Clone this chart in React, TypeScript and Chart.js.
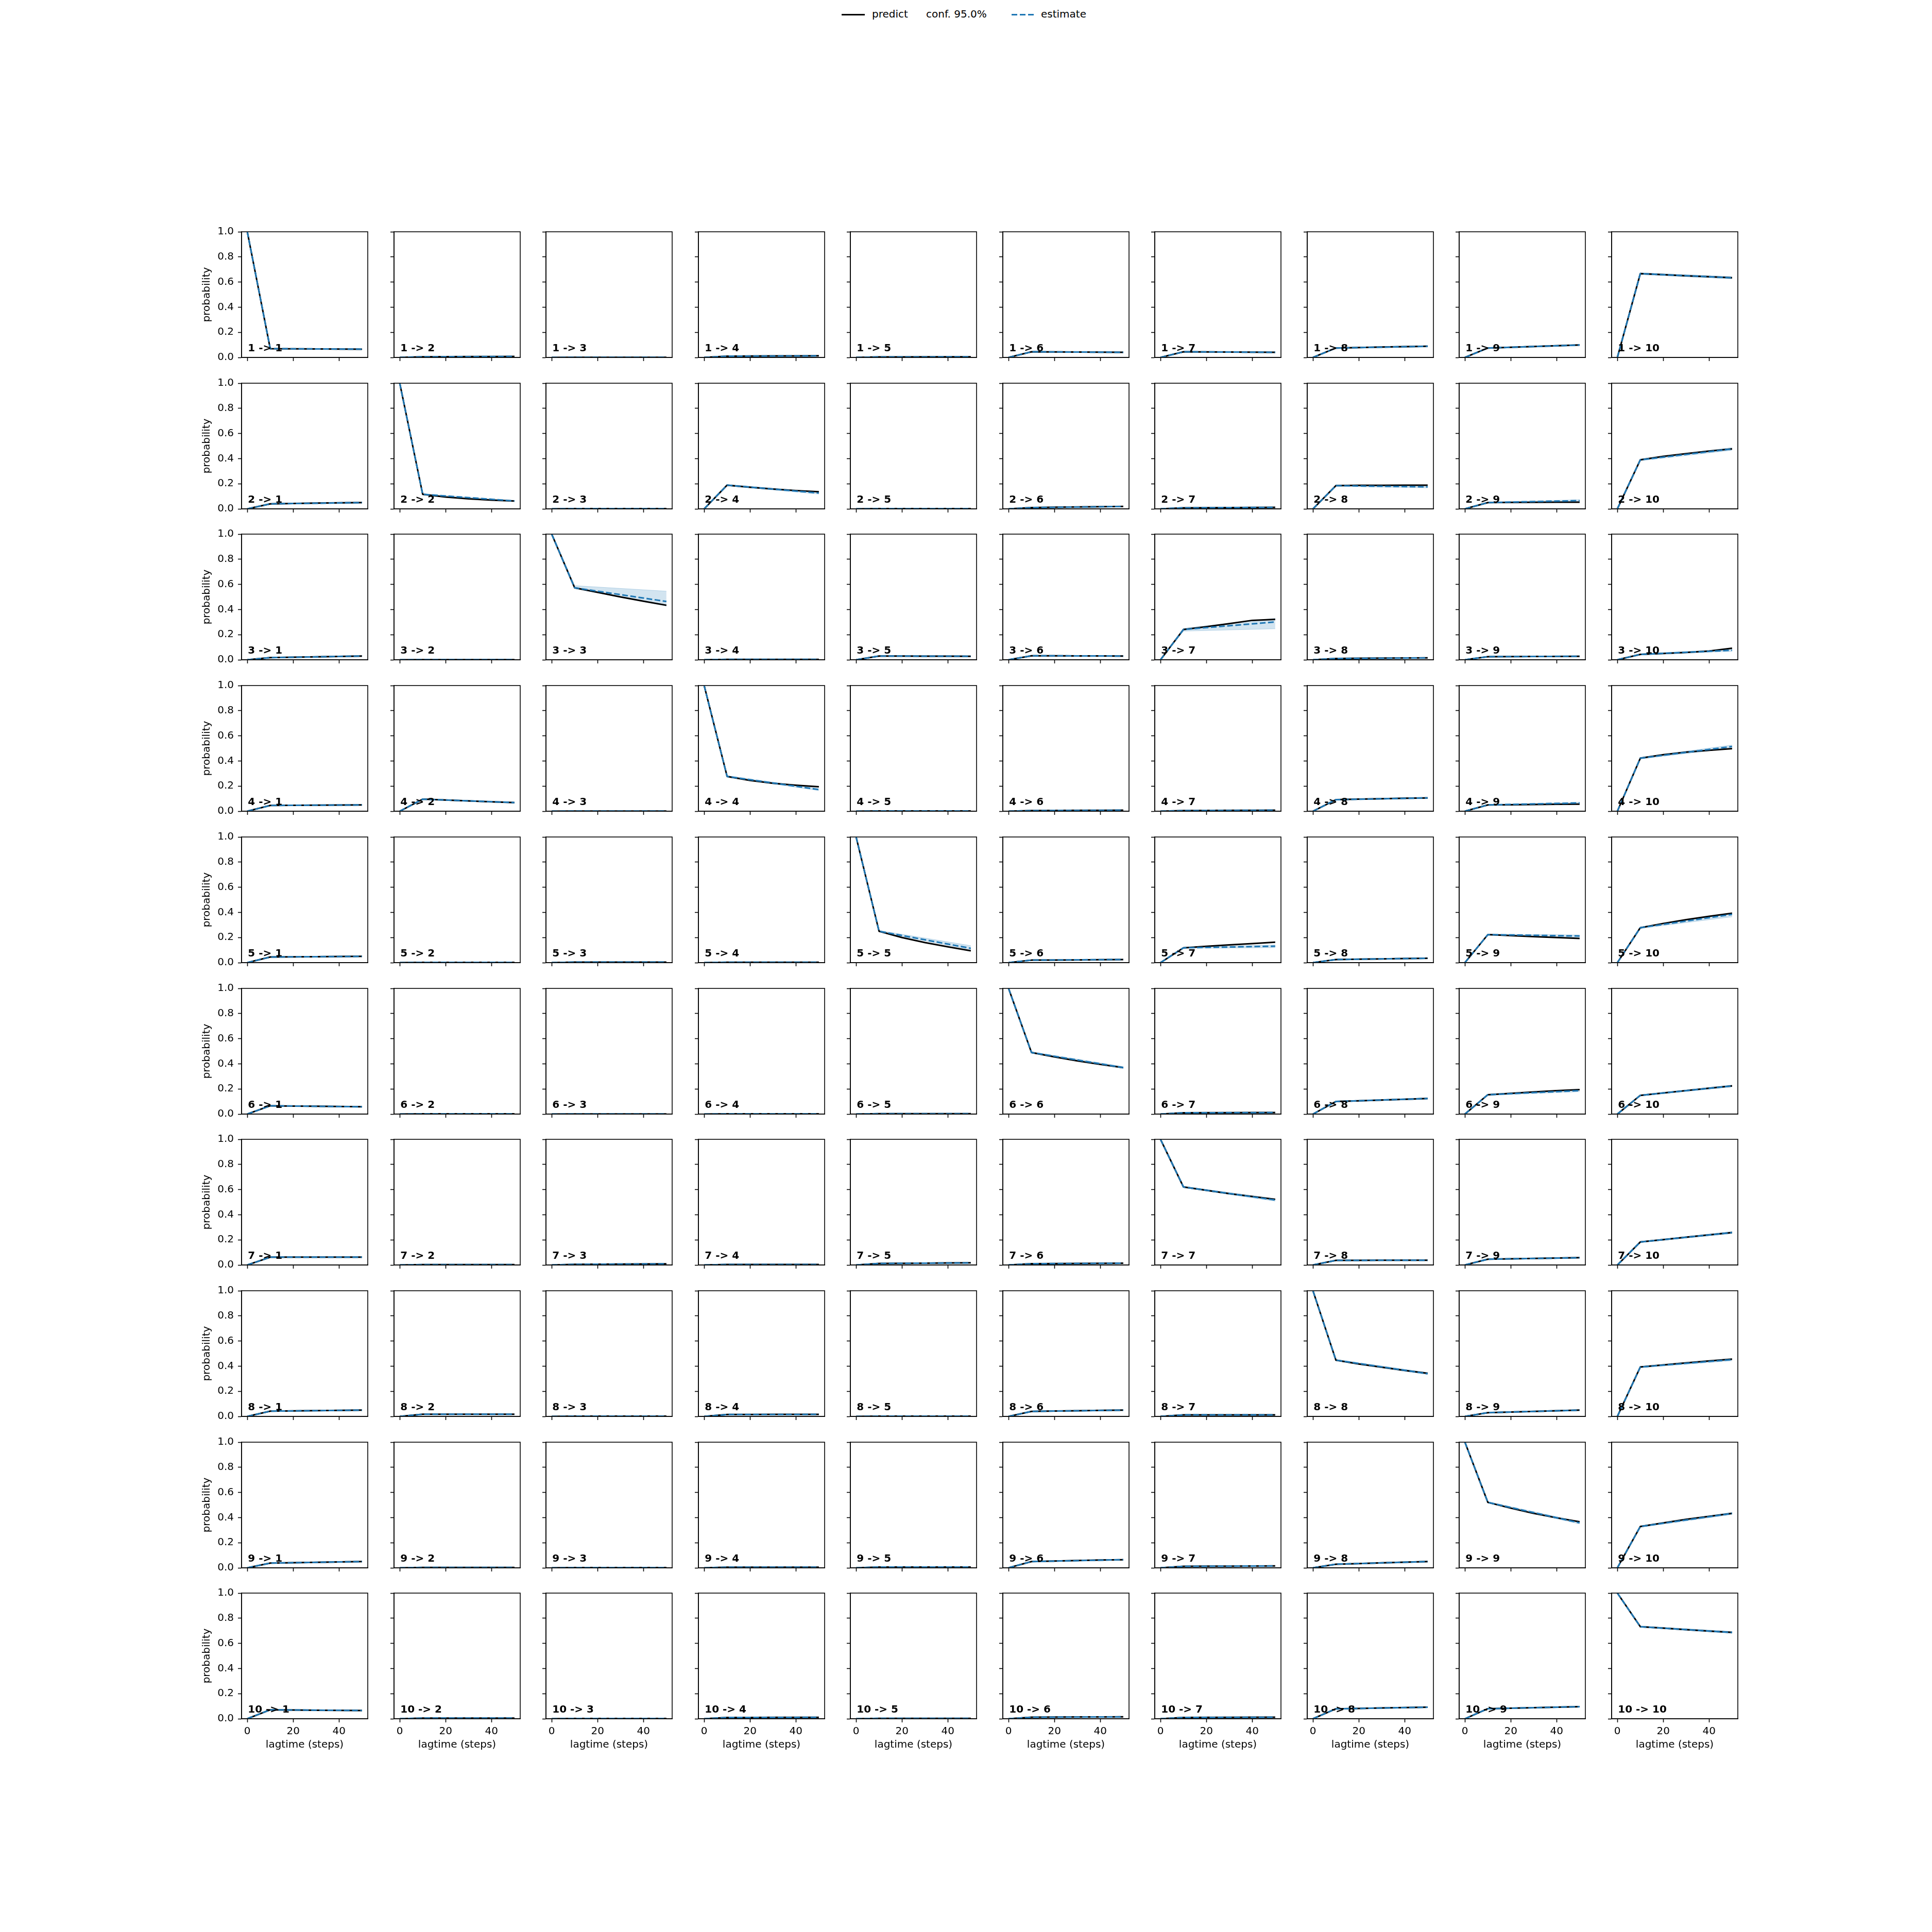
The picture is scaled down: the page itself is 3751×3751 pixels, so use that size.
import { useEffect, useRef } from 'react';
import { Chart, registerables } from 'chart.js';

Chart.register(...registerables);

// ---------------- data ----------------
const lagtimes = [0, 10, 20, 30, 40, 50];
const estimateLagtimes = [0, 10, 50];
const xTickValues = [0, 20, 40];
const yTickValues = [0, 0.2, 0.4, 0.6, 0.8, 1.0];
const stateNames = ['1', '2', '3', '4', '5', '6', '7', '8', '9', '10'];
const legendLabels = ['predict', 'conf. 95.0%', 'estimate'];
const xAxisTitle = 'lagtime (steps)';
const yAxisTitle = 'probability';

// predict: one array per target state, values at lagtimes
const predictFrom1 = [[1, 0.070, 0.069, 0.068, 0.067, 0.066], [0, 0.005, 0.006, 0.007, 0.007, 0.008], [0, 0.001, 0.001, 0.001, 0.001, 0.001], [0, 0.010, 0.011, 0.012, 0.012, 0.013], [0, 0.004, 0.004, 0.005, 0.005, 0.005], [0, 0.045, 0.044, 0.043, 0.042, 0.041], [0, 0.045, 0.044, 0.043, 0.042, 0.041], [0, 0.075, 0.079, 0.083, 0.086, 0.089], [0, 0.075, 0.081, 0.087, 0.093, 0.099], [0, 0.667, 0.659, 0.650, 0.642, 0.634]];
const predictFrom2 = [[0, 0.040, 0.043, 0.046, 0.048, 0.050], [1, 0.116, 0.094, 0.080, 0.070, 0.063], [0, 0.002, 0.002, 0.002, 0.002, 0.002], [0, 0.189, 0.172, 0.158, 0.146, 0.136], [0, 0.002, 0.002, 0.002, 0.002, 0.002], [0, 0.010, 0.013, 0.015, 0.017, 0.019], [0, 0.008, 0.009, 0.010, 0.011, 0.012], [0, 0.185, 0.187, 0.188, 0.189, 0.189], [0, 0.050, 0.051, 0.052, 0.053, 0.053], [0, 0.390, 0.418, 0.440, 0.460, 0.477]];
const predictFrom3 = [[0, 0.017, 0.020, 0.024, 0.027, 0.030], [0, 0.001, 0.001, 0.001, 0.001, 0.001], [1, 0.573, 0.537, 0.500, 0.466, 0.434], [0, 0.003, 0.003, 0.003, 0.003, 0.003], [0, 0.030, 0.030, 0.029, 0.029, 0.028], [0, 0.032, 0.032, 0.031, 0.031, 0.030], [0, 0.241, 0.263, 0.288, 0.314, 0.322], [0, 0.010, 0.012, 0.013, 0.014, 0.015], [0, 0.025, 0.026, 0.027, 0.027, 0.028], [0, 0.043, 0.050, 0.058, 0.070, 0.092]];
const predictFrom4 = [[0, 0.046, 0.047, 0.048, 0.049, 0.050], [0, 0.096, 0.089, 0.082, 0.075, 0.069], [0, 0.001, 0.001, 0.001, 0.001, 0.001], [1, 0.277, 0.245, 0.222, 0.207, 0.195], [0, 0.002, 0.002, 0.002, 0.002, 0.002], [0, 0.005, 0.006, 0.007, 0.007, 0.008], [0, 0.005, 0.006, 0.007, 0.007, 0.008], [0, 0.092, 0.096, 0.099, 0.103, 0.106], [0, 0.050, 0.051, 0.053, 0.055, 0.056], [0, 0.422, 0.450, 0.470, 0.485, 0.498]];
const predictFrom5 = [[0, 0.045, 0.046, 0.047, 0.049, 0.050], [0, 0.002, 0.002, 0.002, 0.002, 0.002], [0, 0.004, 0.004, 0.004, 0.004, 0.004], [0, 0.003, 0.003, 0.003, 0.003, 0.003], [1, 0.250, 0.200, 0.160, 0.126, 0.094], [0, 0.020, 0.021, 0.022, 0.024, 0.025], [0, 0.118, 0.130, 0.141, 0.152, 0.163], [0, 0.025, 0.028, 0.030, 0.033, 0.035], [0, 0.223, 0.215, 0.207, 0.200, 0.193], [0, 0.278, 0.312, 0.342, 0.369, 0.393]];
const predictFrom6 = [[0, 0.066, 0.064, 0.062, 0.060, 0.058], [0, 0.002, 0.002, 0.002, 0.002, 0.002], [0, 0.001, 0.001, 0.001, 0.001, 0.001], [0, 0.002, 0.002, 0.002, 0.002, 0.002], [0, 0.003, 0.003, 0.003, 0.003, 0.003], [1, 0.490, 0.455, 0.423, 0.395, 0.370], [0, 0.010, 0.011, 0.011, 0.012, 0.012], [0, 0.100, 0.106, 0.112, 0.118, 0.124], [0, 0.154, 0.165, 0.176, 0.186, 0.195], [0, 0.149, 0.168, 0.187, 0.206, 0.224]];
const predictFrom7 = [[0, 0.062, 0.062, 0.062, 0.062, 0.062], [0, 0.003, 0.003, 0.003, 0.003, 0.003], [0, 0.005, 0.006, 0.007, 0.008, 0.009], [0, 0.004, 0.004, 0.004, 0.004, 0.004], [0, 0.012, 0.013, 0.014, 0.016, 0.017], [0, 0.010, 0.011, 0.012, 0.013, 0.014], [1, 0.621, 0.594, 0.568, 0.545, 0.523], [0, 0.037, 0.037, 0.038, 0.038, 0.038], [0, 0.046, 0.049, 0.052, 0.055, 0.058], [0, 0.183, 0.202, 0.221, 0.240, 0.258]];
const predictFrom8 = [[0, 0.042, 0.044, 0.046, 0.048, 0.050], [0, 0.017, 0.017, 0.017, 0.017, 0.017], [0, 0.002, 0.002, 0.002, 0.002, 0.002], [0, 0.015, 0.015, 0.016, 0.016, 0.016], [0, 0.002, 0.002, 0.002, 0.002, 0.002], [0, 0.040, 0.043, 0.045, 0.048, 0.050], [0, 0.012, 0.012, 0.012, 0.012, 0.012], [1, 0.448, 0.417, 0.391, 0.366, 0.343], [0, 0.030, 0.035, 0.040, 0.045, 0.050], [0, 0.393, 0.410, 0.426, 0.442, 0.456]];
const predictFrom9 = [[0, 0.038, 0.041, 0.044, 0.047, 0.050], [0, 0.003, 0.003, 0.003, 0.003, 0.003], [0, 0.002, 0.002, 0.002, 0.002, 0.002], [0, 0.005, 0.005, 0.005, 0.005, 0.005], [0, 0.006, 0.006, 0.006, 0.006, 0.006], [0, 0.050, 0.054, 0.058, 0.062, 0.065], [0, 0.012, 0.013, 0.013, 0.014, 0.015], [0, 0.029, 0.034, 0.040, 0.045, 0.050], [1, 0.521, 0.475, 0.433, 0.398, 0.367], [0, 0.329, 0.358, 0.386, 0.410, 0.433]];
const predictFrom10 = [[0, 0.071, 0.070, 0.068, 0.067, 0.066], [0, 0.005, 0.005, 0.005, 0.005, 0.005], [0, 0.002, 0.002, 0.002, 0.002, 0.002], [0, 0.010, 0.010, 0.011, 0.011, 0.011], [0, 0.003, 0.003, 0.003, 0.003, 0.003], [0, 0.012, 0.013, 0.014, 0.014, 0.015], [0, 0.010, 0.011, 0.011, 0.012, 0.012], [0, 0.079, 0.082, 0.086, 0.089, 0.092], [0, 0.080, 0.084, 0.088, 0.092, 0.096], [1, 0.733, 0.721, 0.709, 0.698, 0.687]];

// estimate: values at estimateLagtimes
const estimateFrom1 = [[1, 0.070, 0.066], [0, 0.005, 0.008], [0, 0.001, 0.001], [0, 0.010, 0.013], [0, 0.004, 0.005], [0, 0.045, 0.041], [0, 0.045, 0.041], [0, 0.075, 0.089], [0, 0.075, 0.099], [0, 0.667, 0.634]];
const estimateFrom2 = [[0, 0.040, 0.050], [1, 0.116, 0.063], [0, 0.002, 0.002], [0, 0.189, 0.126], [0, 0.002, 0.002], [0, 0.010, 0.019], [0, 0.008, 0.012], [0, 0.185, 0.175], [0, 0.050, 0.066], [0, 0.390, 0.477]];
const estimateFrom3 = [[0, 0.017, 0.030], [0, 0.001, 0.001], [1, 0.573, 0.464], [0, 0.003, 0.003], [0, 0.030, 0.028], [0, 0.032, 0.030], [0, 0.241, 0.301], [0, 0.010, 0.015], [0, 0.025, 0.028], [0, 0.043, 0.076]];
const estimateFrom4 = [[0, 0.046, 0.050], [0, 0.096, 0.069], [0, 0.001, 0.001], [1, 0.277, 0.172], [0, 0.002, 0.002], [0, 0.005, 0.008], [0, 0.005, 0.008], [0, 0.092, 0.106], [0, 0.050, 0.066], [0, 0.422, 0.515]];
const estimateFrom5 = [[0, 0.045, 0.050], [0, 0.002, 0.002], [0, 0.004, 0.004], [0, 0.003, 0.003], [1, 0.250, 0.114], [0, 0.020, 0.025], [0, 0.118, 0.131], [0, 0.025, 0.035], [0, 0.223, 0.212], [0, 0.278, 0.384]];
const estimateFrom6 = [[0, 0.066, 0.058], [0, 0.002, 0.002], [0, 0.001, 0.001], [0, 0.002, 0.002], [0, 0.003, 0.003], [1, 0.490, 0.370], [0, 0.010, 0.012], [0, 0.100, 0.124], [0, 0.154, 0.187], [0, 0.149, 0.224]];
const estimateFrom7 = [[0, 0.062, 0.062], [0, 0.003, 0.003], [0, 0.005, 0.009], [0, 0.004, 0.004], [0, 0.012, 0.017], [0, 0.010, 0.014], [1, 0.621, 0.517], [0, 0.037, 0.038], [0, 0.046, 0.058], [0, 0.183, 0.258]];
const estimateFrom8 = [[0, 0.042, 0.050], [0, 0.017, 0.017], [0, 0.002, 0.002], [0, 0.015, 0.016], [0, 0.002, 0.002], [0, 0.040, 0.050], [0, 0.012, 0.012], [1, 0.448, 0.340], [0, 0.030, 0.050], [0, 0.393, 0.452]];
const estimateFrom9 = [[0, 0.038, 0.050], [0, 0.003, 0.003], [0, 0.002, 0.002], [0, 0.005, 0.005], [0, 0.006, 0.006], [0, 0.050, 0.065], [0, 0.012, 0.015], [0, 0.029, 0.050], [1, 0.521, 0.358], [0, 0.329, 0.433]];
const estimateFrom10 = [[0, 0.071, 0.066], [0, 0.005, 0.005], [0, 0.002, 0.002], [0, 0.010, 0.011], [0, 0.003, 0.003], [0, 0.012, 0.015], [0, 0.010, 0.012], [0, 0.079, 0.092], [0, 0.080, 0.096], [1, 0.733, 0.687]];

// 95% confidence band (lower / upper) at estimateLagtimes
const confLowFrom1 = [[1, 0.067, 0.062], [0, 0.004, 0.006], [0, 0.000, 0.000], [0, 0.008, 0.010], [0, 0.003, 0.004], [0, 0.042, 0.037], [0, 0.042, 0.037], [0, 0.071, 0.083], [0, 0.071, 0.093], [0, 0.660, 0.625]];
const confHighFrom1 = [[1, 0.073, 0.070], [0, 0.006, 0.010], [0, 0.002, 0.002], [0, 0.012, 0.016], [0, 0.005, 0.007], [0, 0.048, 0.045], [0, 0.048, 0.045], [0, 0.079, 0.095], [0, 0.079, 0.105], [0, 0.674, 0.643]];
const confLowFrom2 = [[0, 0.037, 0.045], [1, 0.112, 0.058], [0, 0.001, 0.001], [0, 0.183, 0.118], [0, 0.001, 0.001], [0, 0.008, 0.016], [0, 0.006, 0.009], [0, 0.179, 0.167], [0, 0.046, 0.059], [0, 0.383, 0.466]];
const confHighFrom2 = [[0, 0.043, 0.055], [1, 0.120, 0.068], [0, 0.003, 0.003], [0, 0.195, 0.134], [0, 0.003, 0.003], [0, 0.012, 0.022], [0, 0.010, 0.015], [0, 0.191, 0.183], [0, 0.054, 0.073], [0, 0.397, 0.488]];
const confLowFrom3 = [[0, 0.014, 0.025], [0, 0.000, 0.000], [1, 0.567, 0.427], [0, 0.002, 0.002], [0, 0.026, 0.023], [0, 0.028, 0.025], [0, 0.228, 0.247], [0, 0.007, 0.011], [0, 0.021, 0.023], [0, 0.038, 0.068]];
const confHighFrom3 = [[0, 0.020, 0.035], [0, 0.002, 0.002], [1, 0.590, 0.546], [0, 0.004, 0.005], [0, 0.034, 0.033], [0, 0.036, 0.035], [0, 0.250, 0.330], [0, 0.013, 0.019], [0, 0.029, 0.033], [0, 0.048, 0.084]];
const confLowFrom4 = [[0, 0.043, 0.046], [0, 0.092, 0.064], [0, 0.000, 0.000], [1, 0.271, 0.164], [0, 0.001, 0.001], [0, 0.004, 0.006], [0, 0.004, 0.006], [0, 0.088, 0.100], [0, 0.046, 0.060], [0, 0.415, 0.503]];
const confHighFrom4 = [[0, 0.049, 0.054], [0, 0.100, 0.074], [0, 0.002, 0.002], [1, 0.283, 0.180], [0, 0.003, 0.003], [0, 0.006, 0.010], [0, 0.006, 0.010], [0, 0.096, 0.112], [0, 0.054, 0.072], [0, 0.429, 0.527]];
const confLowFrom5 = [[0, 0.042, 0.046], [0, 0.001, 0.001], [0, 0.003, 0.003], [0, 0.002, 0.002], [1, 0.244, 0.103], [0, 0.017, 0.021], [0, 0.114, 0.119], [0, 0.022, 0.030], [0, 0.218, 0.201], [0, 0.272, 0.365]];
const confHighFrom5 = [[0, 0.048, 0.054], [0, 0.003, 0.003], [0, 0.005, 0.005], [0, 0.004, 0.004], [1, 0.256, 0.135], [0, 0.023, 0.029], [0, 0.122, 0.141], [0, 0.028, 0.040], [0, 0.228, 0.220], [0, 0.284, 0.390]];
const confLowFrom6 = [[0, 0.063, 0.054], [0, 0.001, 0.001], [0, 0.000, 0.000], [0, 0.001, 0.001], [0, 0.002, 0.002], [1, 0.484, 0.362], [0, 0.008, 0.009], [0, 0.096, 0.118], [0, 0.149, 0.178], [0, 0.144, 0.216]];
const confHighFrom6 = [[0, 0.069, 0.062], [0, 0.003, 0.003], [0, 0.002, 0.002], [0, 0.003, 0.003], [0, 0.004, 0.004], [1, 0.496, 0.378], [0, 0.012, 0.015], [0, 0.104, 0.130], [0, 0.159, 0.198], [0, 0.154, 0.232]];
const confLowFrom7 = [[0, 0.059, 0.058], [0, 0.002, 0.002], [0, 0.004, 0.007], [0, 0.003, 0.003], [0, 0.010, 0.014], [0, 0.008, 0.011], [1, 0.615, 0.508], [0, 0.034, 0.034], [0, 0.043, 0.053], [0, 0.178, 0.250]];
const confHighFrom7 = [[0, 0.065, 0.066], [0, 0.004, 0.004], [0, 0.006, 0.011], [0, 0.005, 0.005], [0, 0.014, 0.020], [0, 0.012, 0.017], [1, 0.627, 0.526], [0, 0.040, 0.042], [0, 0.049, 0.063], [0, 0.188, 0.266]];
const confLowFrom8 = [[0, 0.039, 0.046], [0, 0.015, 0.014], [0, 0.001, 0.001], [0, 0.013, 0.013], [0, 0.001, 0.001], [0, 0.037, 0.046], [0, 0.010, 0.009], [1, 0.442, 0.332], [0, 0.027, 0.045], [0, 0.387, 0.443]];
const confHighFrom8 = [[0, 0.045, 0.054], [0, 0.019, 0.020], [0, 0.003, 0.003], [0, 0.017, 0.019], [0, 0.003, 0.003], [0, 0.043, 0.054], [0, 0.014, 0.015], [1, 0.454, 0.349], [0, 0.033, 0.055], [0, 0.399, 0.461]];
const confLowFrom9 = [[0, 0.035, 0.046], [0, 0.002, 0.002], [0, 0.001, 0.001], [0, 0.004, 0.004], [0, 0.005, 0.005], [0, 0.047, 0.061], [0, 0.010, 0.012], [0, 0.026, 0.045], [1, 0.515, 0.349], [0, 0.323, 0.424]];
const confHighFrom9 = [[0, 0.041, 0.054], [0, 0.004, 0.004], [0, 0.003, 0.003], [0, 0.006, 0.006], [0, 0.007, 0.007], [0, 0.053, 0.069], [0, 0.014, 0.018], [0, 0.032, 0.055], [1, 0.527, 0.367], [0, 0.335, 0.442]];
const confLowFrom10 = [[0, 0.068, 0.062], [0, 0.004, 0.004], [0, 0.001, 0.001], [0, 0.008, 0.009], [0, 0.002, 0.002], [0, 0.010, 0.012], [0, 0.008, 0.009], [0, 0.075, 0.087], [0, 0.076, 0.091], [1, 0.727, 0.679]];
const confHighFrom10 = [[0, 0.074, 0.070], [0, 0.006, 0.006], [0, 0.003, 0.003], [0, 0.012, 0.013], [0, 0.004, 0.004], [0, 0.014, 0.018], [0, 0.012, 0.015], [0, 0.083, 0.097], [0, 0.084, 0.101], [1, 0.739, 0.695]];

const predictRows = [predictFrom1, predictFrom2, predictFrom3, predictFrom4, predictFrom5, predictFrom6, predictFrom7, predictFrom8, predictFrom9, predictFrom10];
const estimateRows = [estimateFrom1, estimateFrom2, estimateFrom3, estimateFrom4, estimateFrom5, estimateFrom6, estimateFrom7, estimateFrom8, estimateFrom9, estimateFrom10];
const confLowRows = [confLowFrom1, confLowFrom2, confLowFrom3, confLowFrom4, confLowFrom5, confLowFrom6, confLowFrom7, confLowFrom8, confLowFrom9, confLowFrom10];
const confHighRows = [confHighFrom1, confHighFrom2, confHighFrom3, confHighFrom4, confHighFrom5, confHighFrom6, confHighFrom7, confHighFrom8, confHighFrom9, confHighFrom10];

// ---------------- layout / style ----------------
const FONT = "'DejaVu Sans', 'Liberation Sans', sans-serif";
const BLUE = '#1f77b4';
const BAND_FILL = 'rgba(31,119,180,0.2)';
const BAND_EDGE = 'rgba(31,119,180,0.25)';
const AX_LEFT0 = 469.3;
const AX_STEP_X = 295.5;
const AX_TOP0 = 450;
const AX_STEP_Y = 293.7;
const AX_W = 245;
const AX_H = 244;
const Y_W = 100;
const PAD_T = 20;
const PAD_R = 20;
const X_H = 70;
const PAD_B = 10;
const CW = Y_W + AX_W + PAD_R;
const CH = PAD_T + AX_H + X_H + PAD_B;
const N = stateNames.length;

const framePlugin = {
  id: 'axesFrame',
  afterDraw(chart: any) {
    const { ctx, chartArea: a } = chart;
    ctx.save();
    ctx.strokeStyle = '#000';
    ctx.lineWidth = 1.6;
    ctx.strokeRect(a.left, a.top, a.right - a.left, a.bottom - a.top);
    ctx.restore();
  },
};

const panelLabelPlugin = {
  id: 'panelLabel',
  afterDatasetsDraw(chart: any, _args: any, opts: any) {
    const { ctx, chartArea: a } = chart;
    ctx.save();
    ctx.font = `bold 20px ${FONT}`;
    ctx.fillStyle = '#000';
    ctx.textAlign = 'left';
    ctx.textBaseline = 'alphabetic';
    ctx.fillText(opts.text, a.left + 0.05 * (a.right - a.left), a.bottom - 0.05 * (a.bottom - a.top));
    ctx.restore();
  },
};

function pts(xs: number[], ys: number[]) {
  return xs.map((x, i) => ({ x, y: ys[i] }));
}

function axLeft(c: number) {
  return Math.round(AX_LEFT0 + AX_STEP_X * c);
}
function axTop(r: number) {
  return Math.round(AX_TOP0 + AX_STEP_Y * r);
}

export default function App() {
  const refs = useRef<(HTMLCanvasElement | null)[]>([]);

  useEffect(() => {
    const charts: Chart[] = [];
    for (let r = 0; r < N; r++) {
      for (let c = 0; c < N; c++) {
        const canvas = refs.current[r * N + c];
        if (!canvas) continue;
        const isLeft = c === 0;
        const isBottom = r === N - 1;
        const chart = new Chart(canvas, {
          type: 'line',
          data: {
            datasets: [
              {
                label: legendLabels[2],
                data: pts(estimateLagtimes, estimateRows[r][c]),
                borderColor: BLUE,
                borderWidth: 3,
                borderDash: [11.1, 4.8],
                borderCapStyle: 'butt',
                borderJoinStyle: 'round',
                pointRadius: 0,
                fill: false,
                tension: 0,
              },
              {
                label: legendLabels[0],
                data: pts(lagtimes, predictRows[r][c]),
                borderColor: '#000',
                borderWidth: 3,
                borderJoinStyle: 'round',
                pointRadius: 0,
                fill: false,
                tension: 0,
              },
              {
                label: 'conf low',
                data: pts(estimateLagtimes, confLowRows[r][c]),
                borderColor: BAND_EDGE,
                borderWidth: 1,
                pointRadius: 0,
                fill: false,
                tension: 0,
              },
              {
                label: legendLabels[1],
                data: pts(estimateLagtimes, confHighRows[r][c]),
                borderColor: BAND_EDGE,
                backgroundColor: BAND_FILL,
                borderWidth: 1,
                pointRadius: 0,
                fill: '-1',
                tension: 0,
              },
            ],
          },
          options: {
            animation: false,
            responsive: false,
            devicePixelRatio: 1,
            events: [],
            layout: { padding: { left: 0, top: PAD_T, right: PAD_R, bottom: PAD_B } },
            plugins: {
              legend: { display: false },
              tooltip: { enabled: false },
              title: { display: false },
              // @ts-ignore
              panelLabel: { text: `${stateNames[r]} -> ${stateNames[c]}` },
            },
            scales: {
              x: {
                type: 'linear',
                min: -2.5,
                max: 52.5,
                afterBuildTicks: (s: any) => {
                  s.ticks = xTickValues.map((v) => ({ value: v }));
                },
                afterFit: (s: any) => {
                  s.height = X_H;
                },
                ticks: {
                  display: isBottom,
                  autoSkip: false,
                  maxRotation: 0,
                  padding: 6,
                  color: '#000',
                  font: { family: FONT, size: 20 },
                  callback: (v: any) => String(v),
                },
                grid: {
                  display: true,
                  drawOnChartArea: false,
                  drawTicks: true,
                  tickLength: 7,
                  tickWidth: 1.6,
                  tickColor: '#000',
                },
                border: { display: true, color: '#000', width: 1.6 },
                title: {
                  display: isBottom,
                  text: xAxisTitle,
                  color: '#000',
                  font: { family: FONT, size: 20 },
                  padding: { top: 0, bottom: 7.3 },
                },
              },
              y: {
                type: 'linear',
                min: 0,
                max: 1,
                afterBuildTicks: (s: any) => {
                  s.ticks = yTickValues.map((v) => ({ value: v }));
                },
                afterFit: (s: any) => {
                  s.width = Y_W;
                },
                ticks: {
                  display: isLeft,
                  autoSkip: false,
                  padding: 8,
                  color: '#000',
                  font: { family: FONT, size: 20 },
                  callback: (v: any) => Number(v).toFixed(1),
                },
                grid: {
                  display: true,
                  drawOnChartArea: false,
                  drawTicks: true,
                  tickLength: 7,
                  tickWidth: 1.6,
                  tickColor: '#000',
                },
                border: { display: true, color: '#000', width: 1.6 },
                title: {
                  display: isLeft,
                  text: yAxisTitle,
                  color: '#000',
                  font: { family: FONT, size: 20 },
                  padding: { top: 21, bottom: 0 },
                },
              },
            },
          } as any,
          plugins: [framePlugin, panelLabelPlugin],
        });
        charts.push(chart);
      }
    }
    return () => {
      charts.forEach((ch) => ch.destroy());
    };
  }, []);

  const canvases = [];
  for (let r = 0; r < N; r++) {
    for (let c = 0; c < N; c++) {
      const k = r * N + c;
      canvases.push(
        <canvas
          key={k}
          ref={(el) => {
            refs.current[k] = el;
          }}
          width={CW}
          height={CH}
          style={{ position: 'absolute', left: axLeft(c) - Y_W, top: axTop(r) - PAD_T, width: CW, height: CH }}
        />
      );
    }
  }

  const textStyle = {
    position: 'absolute' as const,
    top: 17,
    fontFamily: FONT,
    fontSize: 20,
    lineHeight: '20px',
    color: '#000',
    whiteSpace: 'nowrap' as const,
  };

  return (
    <div style={{ position: 'absolute', left: 0, top: 0, width: 3751, height: 3751, background: '#fff', overflow: 'hidden' }}>
      {/* legend */}
      <div style={{ position: 'absolute', left: 1634, top: 27, width: 45, height: 3, background: '#000' }} />
      <span style={{ ...textStyle, left: 1693 }}>{legendLabels[0]}</span>
      <span style={{ ...textStyle, left: 1798 }}>{legendLabels[1]}</span>
      <div
        style={{
          position: 'absolute',
          left: 1964,
          top: 27,
          width: 43,
          height: 3,
          background: `repeating-linear-gradient(to right, ${BLUE} 0px, ${BLUE} 11.1px, transparent 11.1px, transparent 15.9px)`,
        }}
      />
      <span style={{ ...textStyle, left: 2021 }}>{legendLabels[2]}</span>
      {canvases}
    </div>
  );
}
